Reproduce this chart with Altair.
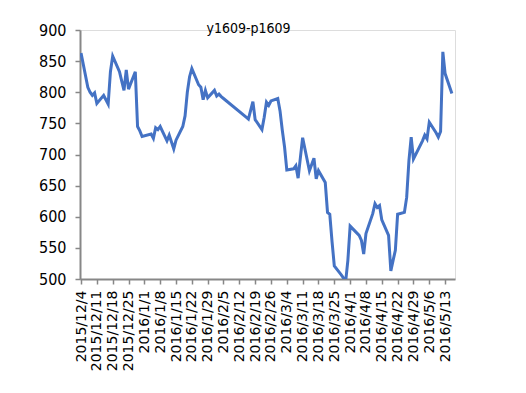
import altair as alt
import pandas as pd

dates = [
    "2015-12-04", "2015-12-07", "2015-12-08", "2015-12-09", "2015-12-10", "2015-12-11",
    "2015-12-14", "2015-12-15", "2015-12-16", "2015-12-17", "2015-12-18",
    "2015-12-21", "2015-12-22", "2015-12-23", "2015-12-24", "2015-12-25",
    "2015-12-28", "2015-12-29", "2015-12-30", "2015-12-31",
    "2016-01-04", "2016-01-05", "2016-01-06", "2016-01-07", "2016-01-08",
    "2016-01-11", "2016-01-12", "2016-01-13", "2016-01-14", "2016-01-15",
    "2016-01-18", "2016-01-19", "2016-01-20", "2016-01-21", "2016-01-22",
    "2016-01-25", "2016-01-26", "2016-01-27", "2016-01-28", "2016-01-29",
    "2016-02-01", "2016-02-02", "2016-02-03", "2016-02-04", "2016-02-05",
    "2016-02-15", "2016-02-16", "2016-02-17", "2016-02-18", "2016-02-19",
    "2016-02-22", "2016-02-23", "2016-02-24", "2016-02-25", "2016-02-26",
    "2016-02-29",
    "2016-03-01", "2016-03-02", "2016-03-03", "2016-03-04",
    "2016-03-07", "2016-03-08", "2016-03-09", "2016-03-10", "2016-03-11",
    "2016-03-14", "2016-03-15", "2016-03-16", "2016-03-17", "2016-03-18",
    "2016-03-21", "2016-03-22", "2016-03-23", "2016-03-24", "2016-03-25",
    "2016-03-28", "2016-03-29", "2016-03-30", "2016-03-31",
    "2016-04-01",
    "2016-04-05", "2016-04-06", "2016-04-07", "2016-04-08",
    "2016-04-11", "2016-04-12", "2016-04-13", "2016-04-14", "2016-04-15",
    "2016-04-18", "2016-04-19", "2016-04-20", "2016-04-21", "2016-04-22",
    "2016-04-25", "2016-04-26", "2016-04-27", "2016-04-28", "2016-04-29",
    "2016-05-03", "2016-05-04", "2016-05-05", "2016-05-06",
    "2016-05-09", "2016-05-10", "2016-05-11", "2016-05-12", "2016-05-13",
    "2016-05-16",
]

spread = [
    863, 808, 800, 795, 799, 782,
    795, 788, 781, 833, 858,
    833, 818, 803, 836, 805,
    833, 745, 738, 729,
    733, 726, 743, 740, 745,
    722, 731, 720, 709, 723,
    745, 762, 800, 825, 838,
    812, 808, 788, 803, 791,
    803, 794, 797, 793, 790,
    760, 757, 771, 785, 756,
    740, 760, 784, 779, 786,
    790,
    770, 739, 712, 675,
    677, 682, 662, 695, 727,
    674, 684, 694, 661, 674,
    655, 607, 604, 560, 521,
    507, 502, 495, 530,
    585,
    570, 562, 540, 573,
    605, 621, 615, 618, 595,
    570, 513, 530, 546, 604,
    607, 631, 690, 728, 693,
    722, 731, 725, 752,
    735, 728, 737, 865, 830,
    798,
]

tick_dates = [
    "2015-12-04", "2015-12-11", "2015-12-18", "2015-12-25", "2016-01-01",
    "2016-01-08", "2016-01-15", "2016-01-22", "2016-01-29", "2016-02-05",
    "2016-02-12", "2016-02-19", "2016-02-26", "2016-03-04", "2016-03-11",
    "2016-03-18", "2016-03-25", "2016-04-01", "2016-04-08", "2016-04-15",
    "2016-04-22", "2016-04-29", "2016-05-06", "2016-05-13",
]
y_ticks = [500, 550, 600, 650, 700, 750, 800, 850, 900]

df = pd.DataFrame({"date": dates, "value": spread})


def dt(s, hours=0):
    y, m, d = (int(p) for p in s.split("-"))
    return alt.DateTime(year=y, month=m, date=d, hours=hours, utc=True)


tick_values = [dt(s) for s in tick_dates]

narrow = "Liberation Sans Narrow, DejaVu Sans Condensed, sans-serif"
axis_gray = "#878787"

chart = (
    alt.Chart(df)
    .mark_line(color="#4472C4", strokeWidth=3, clip=True)
    .encode(
        x=alt.X(
            "date:T",
            scale=alt.Scale(type="utc", domain=[dt("2015-12-03", 13), dt("2016-05-17", 9)]),
            axis=alt.Axis(
                values=tick_values,
                labelExpr="utcFormat(datum.value, '%Y/%-m/%-d')",
                labelAngle=270,
                labelFont="DejaVu Sans",
                labelFontSize=14,
                labelColor="#000000",
                labelPadding=6,
                labelOverlap=False,
                labelFlush=False,
                tickSize=5,
                tickColor=axis_gray,
                tickWidth=1.5,
                domainColor=axis_gray,
                domainWidth=2,
                grid=False,
                title=None,
            ),
        ),
        y=alt.Y(
            "value:Q",
            scale=alt.Scale(domain=[500, 900], nice=False, zero=False),
            axis=alt.Axis(
                values=y_ticks,
                labelFont=narrow,
                labelFontSize=16,
                labelColor="#000000",
                labelPadding=9,
                tickSize=5,
                tickColor=axis_gray,
                tickWidth=1.5,
                domainColor=axis_gray,
                domainWidth=2,
                grid=False,
                title=None,
            ),
        ),
    )
    .properties(
        width=375,
        height=249,
        title=alt.Title(
            "y1609-p1609",
            font=narrow,
            fontSize=14,
            fontWeight="normal",
            color="#000000",
            anchor="middle",
            dx=-19,
            offset=-14,
        ),
        autosize=alt.AutoSizeParams(type="none"),
        padding={"left": 72, "top": 22, "right": 63, "bottom": 100},
    )
    .configure_view(stroke=None)
    .configure(background="#ffffff")
)

chart.save("out.html", embed_options={"renderer": "svg", "actions": False})
